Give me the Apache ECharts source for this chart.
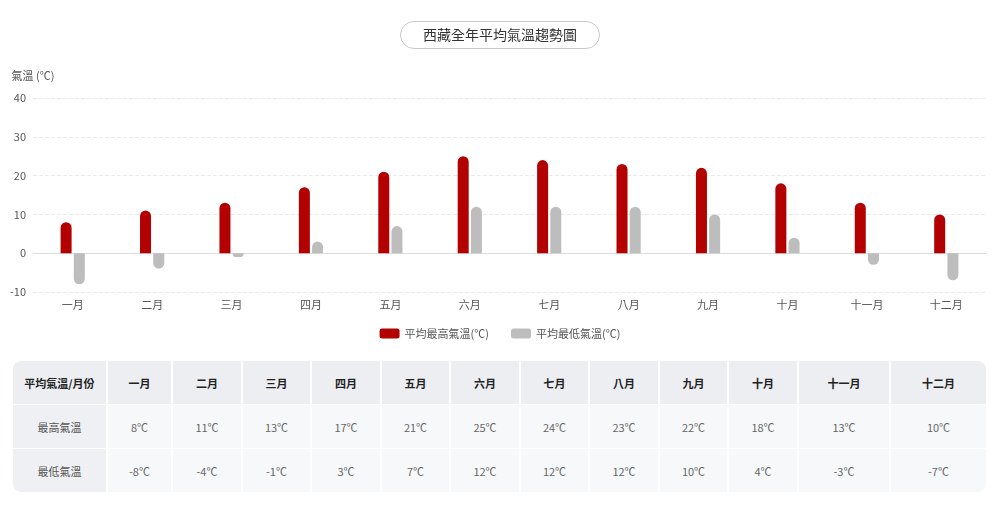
<!DOCTYPE html>
<html>
<head>
<meta charset="utf-8">
<script src="https://cdn.jsdelivr.net/npm/echarts@6/dist/echarts.min.js"></script>
<style>
  html, body { margin: 0; padding: 0; background: #fff; font-family: "Noto Sans CJK TC", "Noto Sans", sans-serif; }
  #main { position: absolute; left: 0; top: 0; width: 1000px; height: 345px; }
  #tbl { position: absolute; left: 13px; top: 361px; width: 973px; border-radius: 8px; overflow: hidden; }
  table { width: 100%; border-collapse: separate; border-spacing: 0; table-layout: fixed; font-size: 11px; }
  th, td { text-align: center; border-right: 2px solid #fff; padding: 0; }
  th:last-child, td:last-child { border-right: none; }
  th { background: #eceef2; color: #222; font-weight: bold; height: 43px; }
  td { background: #f7f8fa; color: #666; height: 43px; border-top: 1px solid #fff; }
  td.rh { background: #eff0f3; color: #555; }
</style>
</head>
<body>
<div id="main"></div>
<div id="tbl"></div>
<script>
  // 西藏全年平均氣溫
  var months = ['一月','二月','三月','四月','五月','六月','七月','八月','九月','十月','十一月','十二月'];
  var highTemp = [8, 11, 13, 17, 21, 25, 24, 23, 22, 18, 13, 10];
  var lowTemp = [-8, -4, -1, 3, 7, 12, 12, 12, 10, 4, -3, -7];
  var colWidths = [95, 65, 70, 69, 70, 69, 70, 69, 70, 69, 70, 92, 95];

  function rounded(arr) {
    return arr.map(function (v) {
      return { value: v, itemStyle: { borderRadius: v >= 0 ? [6, 6, 0, 0] : [0, 0, 6, 6] } };
    });
  }

  var myChart = echarts.init(document.getElementById('main'));
  var option = {
    textStyle: { fontFamily: '"Noto Sans CJK TC", sans-serif' },
    title: {
      text: '西藏全年平均氣溫趨勢圖',
      left: 'center',
      top: 21,
      padding: [7, 23],
      borderColor: '#c8c8c8',
      borderWidth: 1,
      borderRadius: 15,
      textStyle: { fontSize: 14, fontWeight: 'normal', color: '#333' }
    },
    legend: {
      bottom: 1,
      left: 'center',
      itemWidth: 20,
      itemHeight: 10,
      itemGap: 22,
      textStyle: { fontSize: 11, color: '#555' },
      data: ['平均最高氣溫(℃)', '平均最低氣溫(℃)']
    },
    grid: { left: 33, right: 14, top: 98, bottom: 53 },
    xAxis: {
      type: 'category',
      data: months,
      axisLine: { onZero: true, lineStyle: { color: '#ddd' } },
      axisTick: { length: 4, lineStyle: { color: '#ddd' } },
      axisLabel: { margin: 7, fontSize: 11, color: '#555' }
    },
    yAxis: {
      type: 'value',
      min: -10,
      max: 40,
      interval: 10,
      name: '氣溫 (℃)',
      nameGap: 17,
      nameTextStyle: { fontSize: 11, color: '#555', align: 'center' },
      axisLabel: { fontSize: 11, color: '#555', margin: 7 },
      splitLine: { lineStyle: { type: 'dashed', color: '#eaeaea' } }
    },
    series: [
      {
        name: '平均最高氣溫(℃)',
        type: 'bar',
        barWidth: 11,
        barGap: '20%',
        itemStyle: { color: '#b30000' },
        data: rounded(highTemp)
      },
      {
        name: '平均最低氣溫(℃)',
        type: 'bar',
        barWidth: 11,
        itemStyle: { color: '#bdbdbd' },
        data: rounded(lowTemp)
      }
    ]
  };
  myChart.setOption(option);

  // 表格
  var html = '<table><colgroup>';
  colWidths.forEach(function (w) { html += '<col style="width:' + w + 'px">'; });
  html += '</colgroup><tr><th>平均氣溫/月份</th>';
  months.forEach(function (m) { html += '<th>' + m + '</th>'; });
  html += '</tr><tr><td class="rh">最高氣溫</td>';
  highTemp.forEach(function (v) { html += '<td>' + v + '℃</td>'; });
  html += '</tr><tr><td class="rh">最低氣溫</td>';
  lowTemp.forEach(function (v) { html += '<td>' + v + '℃</td>'; });
  html += '</tr></table>';
  document.getElementById('tbl').innerHTML = html;
</script>
</body>
</html>
